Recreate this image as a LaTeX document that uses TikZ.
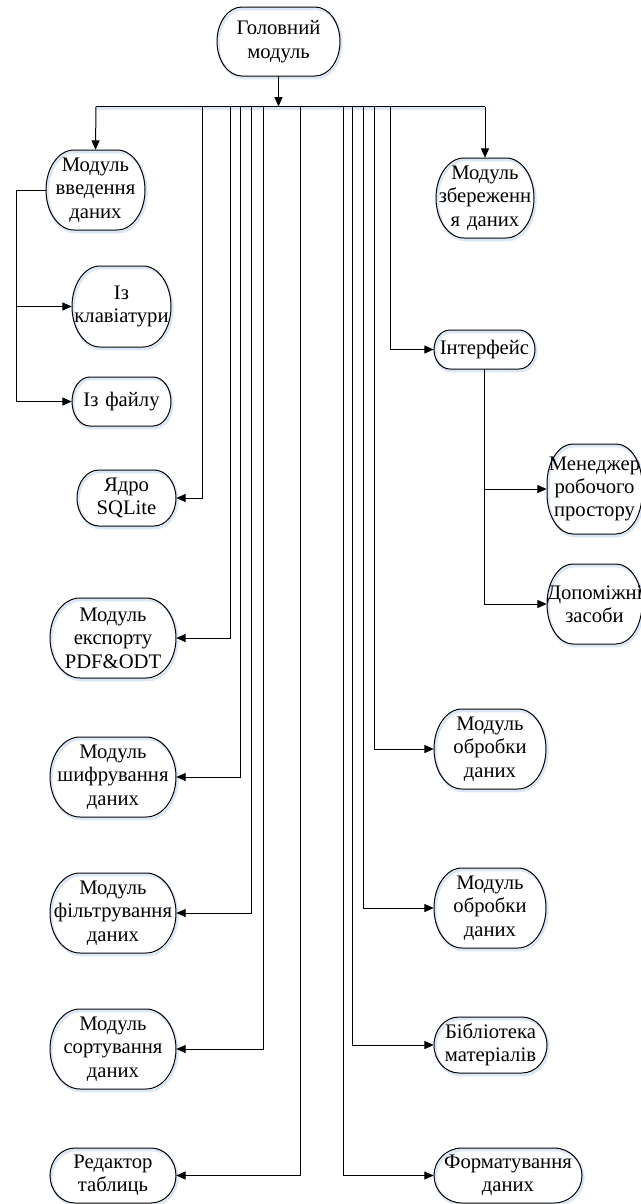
\documentclass[tikz,border=0pt]{standalone}
\usepackage{fontspec}
\setmainfont{LiberationSerif}[Extension=.ttf, UprightFont=*-Regular, BoldFont=*-Bold, ItalicFont=*-Italic, BoldItalicFont=*-BoldItalic]
\usetikzlibrary{arrows.meta}
\definecolor{shadowc}{RGB}{220,231,246}
\tikzset{
  modtext/.style={inner sep=0pt, align=center, font=\fontsize{15.5}{17.5}\selectfont},
  modline/.style={draw=black, line width=0.75pt,
    preaction={draw=shadowc, line width=2pt, transform canvas={xshift=1pt,yshift=-1.5pt}}},
  conn/.style={draw=black, line width=0.75pt},
  arr/.style={conn, -{Triangle[length=7pt,width=6pt]}},
}
% #1 name, #2 cx, #3 cy (px, downwards), #4 w, #5 h, #6 rx, #7 ry, #8 text
\newcommand\modbox[8]{%
  \pgfmathsetmacro\mbW{#4*0.75}\pgfmathsetmacro\mbH{#5*0.75}%
  \pgfmathsetmacro\mbL{#2-#4/2}\pgfmathsetmacro\mbR{#2+#4/2}%
  \pgfmathsetmacro\mbT{-#3+#5/2}\pgfmathsetmacro\mbB{-#3-#5/2}%
  \pgfmathsetmacro\mbrx{#6*0.75}\pgfmathsetmacro\mbry{#7*0.75}%
  \draw[modline] (\mbL+#6,\mbT) -- (\mbR-#6,\mbT)
    arc[start angle=90,end angle=0,x radius=\mbrx pt,y radius=\mbry pt] -- (\mbR,\mbB+#7)
    arc[start angle=0,end angle=-90,x radius=\mbrx pt,y radius=\mbry pt] -- (\mbL+#6,\mbB)
    arc[start angle=270,end angle=180,x radius=\mbrx pt,y radius=\mbry pt] -- (\mbL,\mbT-#7)
    arc[start angle=180,end angle=90,x radius=\mbrx pt,y radius=\mbry pt] -- cycle;
  \node[modtext, text width=\mbW pt, minimum height=\mbH pt] (#1) at (#2,-#3) {#8};
}
\begin{document}
\begin{tikzpicture}[x=0.75pt,y=0.75pt]
\useasboundingbox (0,0) rectangle (641,-1204);

\modbox{head}{278.5}{41.5}{123}{69}{25}{34.5}{Головний\\модуль}
\modbox{vved}{95.5}{190}{99}{80}{28}{40}{Модуль\\введення\\даних}
\modbox{zber}{485}{198}{98}{80}{28}{40}{Модуль\\збереженн\\я даних}
\modbox{klav}{121.5}{306.5}{99}{81}{28}{40.5}{Із\\клавіатури}
\modbox{fail}{121.5}{401.5}{99}{49}{18}{24.5}{Із файлу}
\modbox{yadro}{126.5}{498}{99}{56}{22}{28}{Ядро\\SQLite}
\modbox{interf}{484.5}{349.5}{101}{39}{16}{19.5}{Інтерфейс}
\modbox{menedzh}{594.5}{489}{95}{90}{26}{40}{Менеджер\\робочого\\простору}
\modbox{dopom}{594.5}{604}{95}{80}{26}{40}{Допоміжні\\засоби}
\modbox{eksport}{113}{638}{126}{80}{30}{40}{Модуль\\експорту\\PDF\&ODT}
\modbox{shyfr}{113}{777}{126}{80}{30}{40}{Модуль\\шифрування\\даних}
\modbox{filtr}{113}{913}{126}{80}{30}{40}{Модуль\\фільтрування\\даних}
\modbox{sort}{113}{1049}{126}{80}{30}{40}{Модуль\\сортування\\даних}
\modbox{redakt}{113}{1175.5}{126}{55}{25}{27.5}{Редактор\\таблиць}
\modbox{obr1}{490}{749}{112}{80}{28}{40}{Модуль\\обробки\\даних}
\modbox{obr2}{490}{908}{112}{80}{28}{40}{Модуль\\обробки\\даних}
\modbox{bibl}{490.5}{1045}{113}{56}{25}{28}{Бібліотека\\матеріалів}
\modbox{format}{508}{1175.5}{148}{55}{28}{27.5}{Форматування\\даних}

% bus
\coordinate (bl) at (96,-106.5);
\coordinate (br) at (485,-106.5);
\coordinate (bh) at (278.5,-106.5);
\coordinate (b1) at (202.7,-106.5);
\coordinate (b2) at (230.7,-106.5);
\coordinate (b3) at (240.7,-106.5);
\coordinate (b4) at (251,-106.5);
\coordinate (b5) at (263.3,-106.5);
\coordinate (b6) at (300.7,-106.5);
\coordinate (b7) at (343.3,-106.5);
\coordinate (b8) at (352.7,-106.5);
\coordinate (b9) at (363.3,-106.5);
\coordinate (b10) at (374.3,-106.5);
\coordinate (b11) at (390.7,-106.5);
\coordinate (tl) at (148,-106.5);
\coordinate (tr) at (408,-106.5);

\draw[conn, preaction={draw=shadowc, line width=2pt, transform canvas={yshift=-1.5pt}}] (bl) -- (br);
\draw[conn, line width=1.4pt] (tl) -- (tr);

\draw[arr] (head.south) -- (bh);
\draw[arr] (bl) -- (vved.north);
\draw[arr] (br) -- (zber.north);

% input branches
\coordinate (lf) at (16,-190);
\draw[conn] (vved.west) -- (lf);
\draw[arr] (lf) |- (fail.west);
\draw[arr] (lf |- klav.west) -- (klav.west);

% left drops
\draw[arr] (b1) |- (yadro.east);
\draw[arr] (b2) |- (eksport.east);
\draw[arr] (b3) |- (shyfr.east);
\draw[arr] (b4) |- (filtr.east);
\draw[arr] (b5) |- (sort.east);
\draw[arr] (b6) |- (redakt.east);

% right drops
\draw[arr] (b11) |- (interf.west);
\draw[arr] (b10) |- (obr1.west);
\draw[arr] (b9) |- (obr2.west);
\draw[arr] (b8) |- (bibl.west);
\draw[arr] (b7) |- (format.west);

% interface branches
\draw[arr] (interf.south) |- (dopom.west);
\draw[arr] (interf.south |- menedzh.west) -- (menedzh.west);
\end{tikzpicture}
\end{document}
